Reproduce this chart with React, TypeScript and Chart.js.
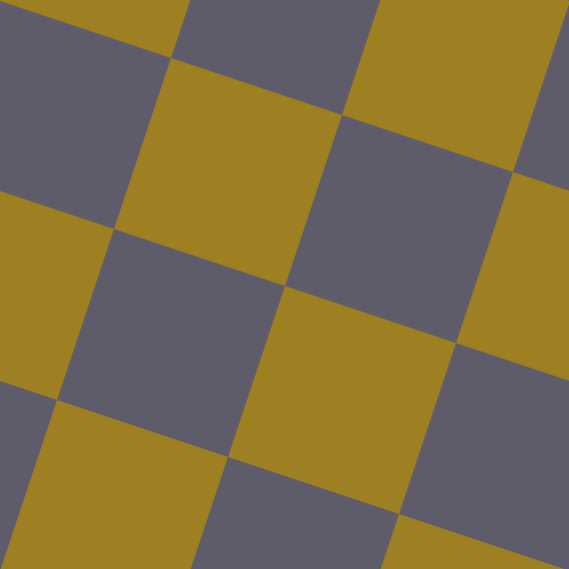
import { useEffect, useRef } from "react";
import { Chart, registerables } from "chart.js";

Chart.register(...registerables);

// gold cells of the tilted board, as lattice indices (i along "a", j along "b")
const goldCellI = [-3, -3, -3, -2, -2, -2, -1, -1, -1, 0, 0, 0, 1, 1, 1, 2, 2, 2];
const goldCellJ = [-3, -1, 1, -2, 0, 2, -3, -1, 1, -2, 0, 2, -3, -1, 1, -2, 0, 2];

const GOLD = "#9e7f21";
const SLATE = "#5e5c6b";
const SIZE = 569;

// lattice: one corner sits at ORIGIN, edges run along A and B
const ORIGIN = [285, 286];
const A = [171, 57];
const B = [-57, 171];

const corner = (i: number, j: number) => ({
  x: ORIGIN[0] + i * A[0] + j * B[0],
  y: ORIGIN[1] + i * A[1] + j * B[1],
});

export default function App() {
  const canvasRef = useRef<HTMLCanvasElement>(null);

  useEffect(() => {
    if (!canvasRef.current) return;
    const datasets = goldCellI.map((i, k) => {
      const j = goldCellJ[k];
      return {
        data: [corner(i, j), corner(i + 1, j), corner(i + 1, j + 1), corner(i, j + 1), corner(i, j)],
        fill: "shape" as const,
        backgroundColor: GOLD,
        borderColor: "transparent",
        borderWidth: 0,
        pointRadius: 0,
        tension: 0,
      };
    });
    const chart = new Chart(canvasRef.current, {
      type: "line",
      data: { datasets },
      options: {
        responsive: false,
        animation: false,
        layout: { padding: 0 },
        plugins: { legend: { display: false }, tooltip: { enabled: false } },
        scales: {
          x: { type: "linear", min: 0, max: SIZE, display: false },
          y: { type: "linear", min: 0, max: SIZE, reverse: true, display: false },
        },
      },
    });
    return () => chart.destroy();
  }, []);

  return (
    <div style={{ position: "fixed", left: 0, top: 0, width: SIZE, height: SIZE, background: SLATE }}>
      <canvas ref={canvasRef} width={SIZE} height={SIZE} />
    </div>
  );
}
